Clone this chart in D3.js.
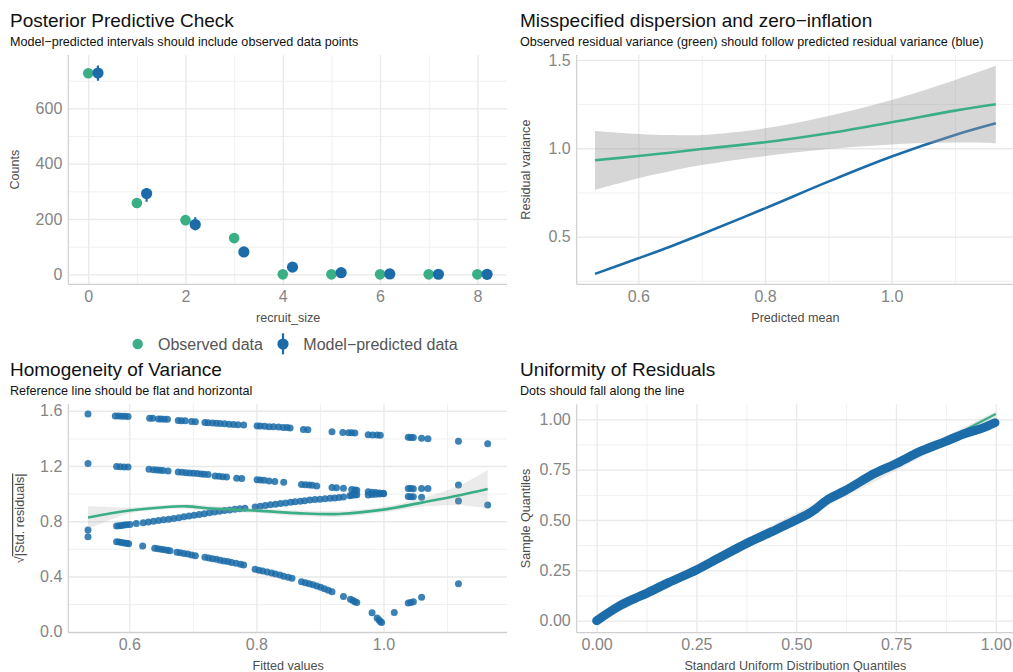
<!DOCTYPE html>
<html>
<head>
<meta charset="utf-8">
<script src="https://cdn.jsdelivr.net/npm/d3@7"></script>
<style>
  html, body { margin: 0; padding: 0; background: #ffffff; }
  svg { display: block; font-family: "Liberation Sans", Arial, sans-serif; }
</style>
</head>
<body>
<script>
// ---------------- DATA ----------------
// Panel 1: Posterior Predictive Check
const recruitSize      = [0, 1, 2, 3, 4, 5, 6, 7, 8];
const observedCounts   = [727, 258, 196, 131, 0, 0, 0, 0, 0];
const predictedCounts  = [728, 292, 180, 81, 26, 6, 1.5, 0.4, 0.1];
const predictedLower   = [700, 262, 159, 73, 20, 3, 0, 0, 0];
const predictedUpper   = [755, 312, 206, 90, 33, 10, 3, 1, 0.5];
const ppcXTicks = [0, 2, 4, 6, 8];
const ppcYTicks = [0, 200, 400, 600];

// Panel 2: Misspecified dispersion and zero-inflation
const dispMean      = [0.5316, 0.6, 0.65, 0.7, 0.8, 0.9, 1.0, 1.1, 1.1644];
const obsResVar     = [0.932, 0.956, 0.975, 0.996, 1.034, 1.085, 1.147, 1.213, 1.249];
const obsResLower   = [0.764, 0.830, 0.870, 0.905, 0.956, 0.996, 1.022, 1.032, 1.028];
const obsResUpper   = [1.098, 1.081, 1.075, 1.075, 1.113, 1.183, 1.273, 1.387, 1.467];
const predResVar    = [0.289, 0.377, 0.443, 0.513, 0.660, 0.811, 0.953, 1.075, 1.141];
const dispXTicks = [0.6, 0.8, 1.0];
const dispYTicks = [0.5, 1.0, 1.5];

// Panel 3: Homogeneity of Variance  ([fitted, sqrt|std.resid|])
const hovBand3 = [[0.535,1.576],[0.578,1.563],[0.583,1.562],[0.588,1.561],[0.593,1.560],[0.598,1.559],
  [0.632,1.546],[0.637,1.545],[0.646,1.541],[0.650,1.540],[0.655,1.539],[0.660,1.538],
  [0.677,1.529],[0.682,1.528],[0.688,1.527],[0.698,1.522],[0.704,1.521],
  [0.719,1.515],[0.724,1.513],[0.731,1.511],[0.737,1.509],[0.743,1.508],[0.750,1.506],
  [0.757,1.503],[0.764,1.501],[0.771,1.499],[0.780,1.497],
  [0.801,1.490],[0.806,1.489],[0.813,1.487],[0.820,1.485],[0.827,1.484],[0.835,1.482],[0.842,1.479],[0.848,1.478],[0.853,1.476],
  [0.874,1.465],[0.881,1.463],[0.919,1.448],[0.936,1.442],[0.945,1.441],[0.950,1.440],[0.955,1.439],
  [0.976,1.427],[0.983,1.425],[0.990,1.424],[0.995,1.423],[1.039,1.408],[1.043,1.407],[1.047,1.406],
  [1.060,1.401],[1.070,1.398],[1.118,1.379],[1.164,1.361]];
const hovBand2 = [[0.535,1.219],[0.580,1.196],[0.586,1.194],[0.592,1.193],[0.598,1.192],
  [0.631,1.176],[0.638,1.173],[0.643,1.171],[0.648,1.169],[0.653,1.168],[0.661,1.164],
  [0.677,1.157],[0.683,1.154],[0.689,1.152],[0.695,1.150],[0.701,1.148],[0.707,1.145],[0.713,1.143],[0.718,1.141],[0.724,1.139],
  [0.735,1.127],[0.741,1.125],[0.747,1.123],[0.753,1.121],[0.769,1.112],[0.777,1.110],
  [0.801,1.100],[0.806,1.098],[0.812,1.096],[0.820,1.092],[0.829,1.088],[0.843,1.082],
  [0.871,1.066],[0.877,1.064],[0.883,1.062],[0.888,1.060],[0.895,1.056],
  [0.919,1.045],[0.926,1.043],[0.937,1.039],[0.950,1.030],[0.955,1.027],[0.958,1.024],
  [0.976,1.013],[0.982,1.010],[0.988,1.008],[0.994,1.005],[1.000,1.003],
  [1.039,1.038],[1.043,1.037],[1.047,1.036],[1.060,1.037],[1.070,1.038],[1.118,1.062]];
const hovBand0 = [[0.535,0.736],[0.535,0.688],
  [0.580,0.765],[0.584,0.767],[0.588,0.770],[0.592,0.772],[0.596,0.774],[0.601,0.776],
  [0.611,0.783],[0.622,0.790],[0.630,0.795],[0.638,0.800],[0.646,0.805],[0.654,0.810],[0.662,0.815],[0.670,0.820],
  [0.678,0.826],[0.686,0.832],[0.694,0.838],[0.702,0.843],[0.710,0.849],[0.718,0.855],[0.726,0.861],[0.734,0.867],[0.742,0.873],[0.750,0.878],
  [0.758,0.882],[0.766,0.886],[0.774,0.890],[0.782,0.894],
  [0.798,0.904],[0.806,0.909],[0.814,0.914],[0.822,0.919],[0.830,0.924],[0.838,0.929],[0.846,0.933],[0.854,0.938],[0.861,0.941],
  [0.869,0.945],[0.876,0.949],[0.884,0.953],[0.892,0.957],[0.900,0.960],[0.908,0.963],
  [0.916,0.966],[0.923,0.969],[0.930,0.972],[0.937,0.975],
  [0.947,0.985],[0.950,0.988],[0.955,0.990],[0.958,0.992],
  [0.976,0.990],[0.982,0.993],[0.988,0.996],[0.994,0.998],[1.000,0.999],
  [1.039,0.980],[1.043,0.978],[1.047,0.978],[1.060,0.973],[1.118,0.946],[1.164,0.917]];
const hovBand1 = [[0.580,0.652],[0.584,0.649],[0.588,0.646],[0.592,0.643],[0.596,0.640],[0.599,0.637],
  [0.621,0.621],[0.640,0.604],[0.645,0.600],[0.650,0.597],[0.655,0.594],[0.660,0.590],[0.664,0.587],
  [0.675,0.576],[0.680,0.572],[0.686,0.567],[0.692,0.562],[0.698,0.556],[0.704,0.550],
  [0.719,0.539],[0.725,0.534],[0.731,0.529],[0.737,0.524],[0.743,0.518],[0.749,0.512],
  [0.755,0.508],[0.761,0.502],[0.768,0.495],[0.775,0.488],[0.780,0.483],
  [0.798,0.452],[0.804,0.446],[0.810,0.440],[0.817,0.432],[0.824,0.425],[0.830,0.418],[0.837,0.410],[0.843,0.402],[0.850,0.395],[0.856,0.388],
  [0.871,0.362],[0.877,0.355],[0.883,0.348],[0.889,0.340],[0.895,0.332],[0.901,0.322],[0.907,0.312],[0.913,0.300],[0.919,0.290],
  [0.937,0.256],[0.948,0.235],[0.952,0.226],[0.955,0.218],[0.958,0.212],
  [0.982,0.138],[0.990,0.100],[0.993,0.085],[0.995,0.075],[0.997,0.066],
  [1.017,0.140],[1.039,0.208],[1.043,0.212],[1.047,0.217],[1.060,0.249],[1.118,0.348]];
const hovSmoothX     = [0.535, 0.6, 0.65, 0.69, 0.73, 0.8, 0.87, 0.93, 1.0, 1.06, 1.12, 1.164];
const hovSmoothY     = [0.827, 0.878, 0.900, 0.908, 0.892, 0.877, 0.857, 0.853, 0.884, 0.935, 0.988, 1.033];
const hovSmoothUpper = [0.910, 0.900, 0.915, 0.925, 0.910, 0.895, 0.878, 0.875, 0.905, 0.965, 1.060, 1.171];
const hovSmoothLower = [0.745, 0.856, 0.885, 0.891, 0.874, 0.859, 0.836, 0.831, 0.863, 0.905, 0.915, 0.893];
const hovXTicks = [0.6, 0.8, 1.0];
const hovYTicks = [0.0, 0.4, 0.8, 1.2, 1.6];

// Panel 4: Uniformity of Residuals
const unifTheo   = [0, 0.054, 0.096, 0.125, 0.18, 0.25, 0.305, 0.376, 0.439, 0.497, 0.539, 0.58, 0.622, 0.697, 0.748, 0.815, 0.873, 0.923, 0.965, 0.998];
const unifSample = [0, 0.070, 0.111, 0.136, 0.189, 0.252, 0.31, 0.384, 0.442, 0.497, 0.541, 0.603, 0.645, 0.732, 0.778, 0.844, 0.889, 0.930, 0.955, 0.983];
const unifLineX  = [0, 1];
const unifLineY  = [0, 1.026];
const unifBandX     = [0, 0.25, 0.5, 0.75, 1.0];
const unifBandUpper = [0.02, 0.28, 0.535, 0.79, 1.04];
const unifBandLower = [-0.01, 0.235, 0.49, 0.745, 1.01];
const unifTicks = [0, 0.25, 0.5, 0.75, 1.0];

// ---------------- STYLE ----------------
const GREEN = "#3aaf85", BLUE = "#1b6ca8";
const FONT = '"Liberation Sans", Arial, sans-serif';
const W = 1013, H = 672;

const svg = d3.select("body").append("svg").attr("width", W).attr("height", H);

function text(g, x, y, s, o = {}) {
  const t = g.append("text").attr("x", x).attr("y", y).text(s)
    .attr("font-size", o.size || 12.6).attr("fill", o.fill || "#000")
    .attr("text-anchor", o.anchor || "start");
  if (o.rotate) t.attr("transform", `rotate(-90,${x},${y})`);
  return t;
}

function panel(cfg) {
  const g = svg.append("g");
  const x = d3.scaleLinear().domain(cfg.xDomain).range([cfg.left, cfg.right]);
  const y = d3.scaleLinear().domain(cfg.yDomain).range([cfg.bottom, cfg.top]);
  const h = cfg.bottom - cfg.top, w = cfg.right - cfg.left;
  const grid = (axis, tr, color, sw) => g.append("g").attr("transform", tr).call(axis)
    .call(s => { s.select(".domain").remove(); s.selectAll("text").remove();
      s.selectAll("line").attr("stroke", color).attr("stroke-width", sw); });
  grid(d3.axisBottom(x).tickValues(cfg.xMinor).tickSize(-h), `translate(0,${cfg.bottom})`, "#f0f0f0", 1);
  grid(d3.axisLeft(y).tickValues(cfg.yMinor).tickSize(-w), `translate(${cfg.left},0)`, "#f0f0f0", 1);
  grid(d3.axisBottom(x).tickValues(cfg.xMajor).tickSize(-h), `translate(0,${cfg.bottom})`, "#e9e9e9", 1.3);
  grid(d3.axisLeft(y).tickValues(cfg.yMajor).tickSize(-w), `translate(${cfg.left},0)`, "#e9e9e9", 1.3);
  // axis lines
  g.append("line").attr("x1", cfg.left).attr("x2", cfg.left).attr("y1", cfg.top).attr("y2", cfg.bottom)
    .attr("stroke", "#cfcfcf").attr("stroke-width", 1.2);
  g.append("line").attr("x1", cfg.left).attr("x2", cfg.right).attr("y1", cfg.bottom).attr("y2", cfg.bottom)
    .attr("stroke", "#cfcfcf").attr("stroke-width", 1.2);
  // tick labels
  const lab = s => { s.select(".domain").remove(); s.selectAll("line").remove();
    s.attr("font-family", FONT).attr("font-size", 16);
    s.selectAll("text").attr("fill", "#858585"); };
  g.append("g").attr("transform", `translate(0,${cfg.bottom})`)
    .call(d3.axisBottom(x).tickValues(cfg.xMajor).tickSize(0).tickPadding(6).tickFormat(cfg.xFmt)).call(lab);
  g.append("g").attr("transform", `translate(${cfg.left},0)`)
    .call(d3.axisLeft(y).tickValues(cfg.yMajor).tickSize(0).tickPadding(6).tickFormat(cfg.yFmt)).call(lab);
  // titles
  text(g, cfg.titleX, cfg.titleY, cfg.title, { size: 19, fill: "#111" });
  text(g, cfg.titleX, cfg.titleY + 18.8, cfg.subtitle, { size: 12.6, fill: "#111" });
  text(g, (cfg.left + Math.min(cfg.right, W)) / 2 + 0.5, cfg.xLabelY, cfg.xLabel, { anchor: "middle", fill: "#4d4d4d" });
  if (cfg.yLabel) text(g, cfg.yLabelX, (cfg.top + cfg.bottom) / 2, cfg.yLabel, { anchor: "middle", fill: "#4d4d4d", rotate: true });
  const clipId = "clip" + Math.round(cfg.left) + Math.round(cfg.top);
  svg.append("clipPath").attr("id", clipId).append("rect")
    .attr("x", cfg.left).attr("y", cfg.top - 10).attr("width", w).attr("height", h + 10);
  const plot = g.append("g").attr("clip-path", `url(#${clipId})`);
  return { g, plot, x, y };
}

// ---------- Panel 1 ----------
{
  const p = panel({
    left: 68.3, right: 507, top: 55, bottom: 284.3,
    xDomain: [-0.41, 8.61], yDomain: [-36, 793],
    xMajor: ppcXTicks, xMinor: [1, 3, 5, 7], yMajor: ppcYTicks, yMinor: [100, 300, 500, 700],
    xFmt: d3.format("d"), yFmt: d3.format("d"),
    title: "Posterior Predictive Check", subtitle: "Model\u2212predicted intervals should include observed data points",
    titleX: 10, titleY: 27.3, xLabel: "recruit_size", xLabelY: 321.5, yLabel: "Counts", yLabelX: 19
  });
  const off = 0.2;
  p.plot.selectAll(".obs").data(recruitSize).join("circle")
    .attr("cx", (d) => p.x(d)).attr("cy", (d, i) => p.y(observedCounts[i])).attr("r", 5.3).attr("fill", GREEN);
  p.plot.selectAll(".eb").data(recruitSize).join("line")
    .attr("x1", d => p.x(d + off)).attr("x2", d => p.x(d + off))
    .attr("y1", (d, i) => p.y(predictedLower[i])).attr("y2", (d, i) => p.y(predictedUpper[i]))
    .attr("stroke", BLUE).attr("stroke-width", 2.2);
  p.plot.selectAll(".pred").data(recruitSize).join("circle")
    .attr("cx", d => p.x(d + off)).attr("cy", (d, i) => p.y(predictedCounts[i])).attr("r", 5.6).attr("fill", BLUE);

  // legend
  const lg = svg.append("g");
  lg.append("circle").attr("cx", 137.7).attr("cy", 344).attr("r", 5.2).attr("fill", GREEN);
  text(lg, 158, 349.8, "Observed data", { size: 16, fill: "#555" });
  lg.append("line").attr("x1", 283).attr("x2", 283).attr("y1", 333.3).attr("y2", 354.3).attr("stroke", BLUE).attr("stroke-width", 2.2);
  lg.append("circle").attr("cx", 283).attr("cy", 344).attr("r", 5.6).attr("fill", BLUE);
  text(lg, 303.3, 349.8, "Model\u2212predicted data", { size: 16, fill: "#555" });
}

// ---------- Panel 2 ----------
{
  const p = panel({
    left: 576.7, right: 1014.8, top: 55, bottom: 284.3,
    xDomain: [0.5027, 1.1944], yDomain: [0.23, 1.528],
    xMajor: dispXTicks, xMinor: [0.7, 0.9, 1.1], yMajor: dispYTicks, yMinor: [0.25, 0.75, 1.25],
    xFmt: d3.format(".1f"), yFmt: d3.format(".1f"),
    title: "Misspecified dispersion and zero\u2212inflation",
    subtitle: "Observed residual variance (green) should follow predicted residual variance (blue)",
    titleX: 520, titleY: 27.3, xLabel: "Predicted mean", xLabelY: 321.5, yLabel: "Residual variance", yLabelX: 530
  });
  const curve = d3.curveCatmullRom;
  const idx = d3.range(dispMean.length);
  p.plot.append("path").datum(idx)
    .attr("d", d3.line().x(i => p.x(dispMean[i])).y(i => p.y(predResVar[i])).curve(curve))
    .attr("fill", "none").attr("stroke", BLUE).attr("stroke-width", 2.6);
  p.plot.append("path").datum(idx)
    .attr("d", d3.area().x(i => p.x(dispMean[i])).y0(i => p.y(obsResLower[i])).y1(i => p.y(obsResUpper[i])).curve(curve))
    .attr("fill", "#999999").attr("fill-opacity", 0.4);
  p.plot.append("path").datum(idx)
    .attr("d", d3.line().x(i => p.x(dispMean[i])).y(i => p.y(obsResVar[i])).curve(curve))
    .attr("fill", "none").attr("stroke", GREEN).attr("stroke-width", 2.6);
}

// ---------- Panel 3 ----------
{
  const p = panel({
    left: 68.3, right: 507, top: 404, bottom: 632.7,
    xDomain: [0.504, 1.1944], yDomain: [-0.007, 1.649],
    xMajor: hovXTicks, xMinor: [0.7, 0.9, 1.1], yMajor: hovYTicks, yMinor: [0.2, 0.6, 1.0, 1.4],
    xFmt: d3.format(".1f"), yFmt: d3.format(".1f"),
    title: "Homogeneity of Variance", subtitle: "Reference line should be flat and horizontal",
    titleX: 10, titleY: 376, xLabel: "Fitted values", xLabelY: 670, yLabel: null
  });
  // y label with sqrt
  const cy = (404 + 632.7) / 2;
  const t = p.g.append("text").attr("x", 24).attr("y", cy).attr("text-anchor", "middle")
    .attr("font-size", 12.6).attr("fill", "#4d4d4d").attr("transform", `rotate(-90,24,${cy})`);
  t.append("tspan").text("\u221A");
  t.append("tspan").text("|Std. residuals|").style("text-decoration", "overline");

  const pts = hovBand3.concat(hovBand2, hovBand0, hovBand1);
  p.plot.selectAll(".pt").data(pts).join("circle")
    .attr("cx", d => p.x(d[0])).attr("cy", d => p.y(d[1])).attr("r", 3.5)
    .attr("fill", BLUE).attr("fill-opacity", 0.85);
  const idx = d3.range(hovSmoothX.length);
  const curve = d3.curveCatmullRom;
  p.plot.append("path").datum(idx)
    .attr("d", d3.area().x(i => p.x(hovSmoothX[i])).y0(i => p.y(hovSmoothLower[i])).y1(i => p.y(hovSmoothUpper[i])).curve(curve))
    .attr("fill", "#999999").attr("fill-opacity", 0.2);
  p.plot.append("path").datum(idx)
    .attr("d", d3.line().x(i => p.x(hovSmoothX[i])).y(i => p.y(hovSmoothY[i])).curve(curve))
    .attr("fill", "none").attr("stroke", GREEN).attr("stroke-width", 2.6);
}

// ---------- Panel 4 ----------
{
  const p = panel({
    left: 576.7, right: 1015.7, top: 404.3, bottom: 632.7,
    xDomain: [-0.05, 1.05], yDomain: [-0.0596, 1.0745],
    xMajor: unifTicks, xMinor: [0.125, 0.375, 0.625, 0.875], yMajor: unifTicks, yMinor: [0.125, 0.375, 0.625, 0.875],
    xFmt: d3.format(".2f"), yFmt: d3.format(".2f"),
    title: "Uniformity of Residuals", subtitle: "Dots should fall along the line",
    titleX: 520, titleY: 375.7, xLabel: "Standard Uniform Distribution Quantiles", xLabelY: 670,
    yLabel: "Sample Quantiles", yLabelX: 530
  });
  const bi = d3.range(unifBandX.length);
  p.plot.append("path").datum(bi)
    .attr("d", d3.area().x(i => p.x(unifBandX[i])).y0(i => p.y(unifBandLower[i])).y1(i => p.y(unifBandUpper[i])))
    .attr("fill", "#999999").attr("fill-opacity", 0.2);
  const li = d3.range(unifLineX.length);
  p.plot.append("path").datum(li)
    .attr("d", d3.line().x(i => p.x(unifLineX[i])).y(i => p.y(unifLineY[i])))
    .attr("fill", "none").attr("stroke", GREEN).attr("stroke-width", 2.2);
  const qi = d3.range(unifTheo.length);
  p.plot.append("path").datum(qi)
    .attr("d", d3.line().x(i => p.x(unifTheo[i])).y(i => p.y(unifSample[i])).curve(d3.curveCatmullRom))
    .attr("fill", "none").attr("stroke", BLUE).attr("stroke-width", 9)
    .attr("stroke-linecap", "round").attr("stroke-linejoin", "round");
}
</script>
</body>
</html>
